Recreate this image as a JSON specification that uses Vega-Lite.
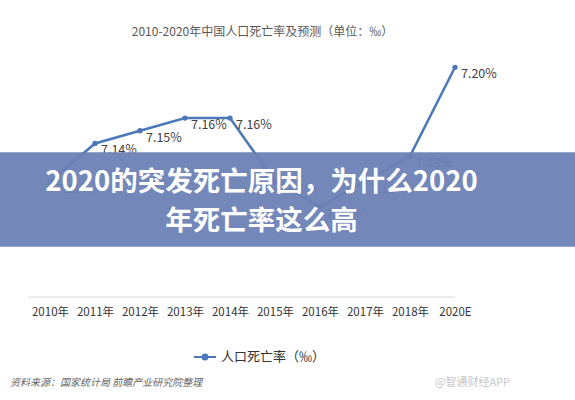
{
  "$schema": "https://vega.github.io/schema/vega-lite/v6.json",
  "width": 575,
  "height": 250,
  "autosize": "none",
  "padding": {"top": 47, "left": 0, "right": 0, "bottom": 103},
  "background": "white",
  "title": {
    "text": "2010-2020年中国人口死亡率及预测（单位：‰）",
    "fontSize": 12,
    "fontWeight": "normal",
    "color": "#595959",
    "offset": 8,
    "dx": -25
  },
  "datasets": {
    "rates": [
      {"year": "2010年", "rate": 7.11, "label": "7.11%"},
      {"year": "2011年", "rate": 7.14, "label": "7.14%"},
      {"year": "2012年", "rate": 7.15, "label": "7.15%"},
      {"year": "2013年", "rate": 7.16, "label": "7.16%"},
      {"year": "2014年", "rate": 7.16, "label": "7.16%"},
      {"year": "2015年", "rate": 7.11, "label": "7.11%"},
      {"year": "2016年", "rate": 7.09, "label": "7.09%"},
      {"year": "2017年", "rate": 7.11, "label": "7.11%"},
      {"year": "2018年", "rate": 7.13, "label": "7.13%"},
      {"year": "2020E", "rate": 7.20, "label": "7.20%"}
    ]
  },
  "data": {"values": [{}]},
  "layer": [
    {
      "mark": {"type": "rule", "color": "#d9d9d9", "strokeWidth": 1},
      "encoding": {
        "x": {
          "datum": "2010年",
          "type": "ordinal",
          "scale": {
            "type": "point",
            "domain": ["2010年", "2011年", "2012年", "2013年", "2014年", "2015年", "2016年", "2017年", "2018年", "2020E"],
            "range": [50, 455],
            "padding": 0
          },
          "axis": {
            "title": null,
            "domain": false,
            "ticks": false,
            "grid": false,
            "labelAngle": 0,
            "labelFontSize": 11.5,
            "labelColor": "#333333",
            "labelPadding": 9
          }
        },
        "x2": {"datum": "2020E"},
        "xOffset": {"value": -22},
        "x2Offset": {"value": 23},
        "y": {
          "datum": 7.019,
          "type": "quantitative",
          "scale": {"domain": [7.019, 7.216], "zero": false, "nice": false},
          "axis": null
        }
      }
    },
    {
      "data": {"name": "rates"},
      "encoding": {
        "x": {"field": "year", "type": "ordinal", "sort": null},
        "y": {"field": "rate", "type": "quantitative"}
      },
      "layer": [
        {
          "mark": {"type": "line", "strokeWidth": 2.5},
          "encoding": {
            "color": {
              "datum": "人口死亡率（‰）",
              "scale": {"range": ["#4a78b8"]},
              "legend": {
                "title": null,
                "orient": "none",
                "legendX": 193,
                "legendY": 298,
                "symbolType": "M-1,0L1,0M-0.23,0A0.23,0.23,0,1,0,0.23,0A0.23,0.23,0,1,0,-0.23,0Z",
                "symbolSize": 484,
                "symbolStrokeWidth": 2,
                "symbolFillColor": "#4a78b8",
                "symbolStrokeColor": "#4a78b8",
                "labelFontSize": 13,
                "labelColor": "#333333",
                "labelOffset": 4
              }
            }
          }
        },
        {
          "mark": {"type": "point", "filled": true, "size": 28, "color": "#4a78b8", "opacity": 1}
        },
        {
          "mark": {"type": "text", "align": "left", "baseline": "middle", "dx": 6, "dy": 7, "fontSize": 12.5, "color": "#404040"},
          "encoding": {"text": {"field": "label"}}
        }
      ]
    },
    {
      "mark": {"type": "rect", "color": "#6b80b5", "opacity": 0.94},
      "encoding": {
        "y": {"datum": 7.133},
        "y2": {"datum": 7.0585}
      }
    },
    {
      "mark": {
        "type": "text",
        "text": ["2020的突发死亡原因，为什么2020", "年死亡率这么高"],
        "fontSize": 27.5,
        "fontWeight": "bold",
        "color": "white",
        "lineHeight": 39,
        "align": "center",
        "baseline": "middle",
        "dx": -26
      },
      "encoding": {
        "y": {"datum": 7.109}
      }
    },
    {
      "mark": {
        "type": "text",
        "text": "资料来源：国家统计局 前瞻产业研究院整理",
        "fontSize": 10,
        "fontStyle": "italic",
        "color": "#666666",
        "align": "left",
        "baseline": "middle",
        "dx": -40
      },
      "encoding": {
        "x": {"datum": "2010年"},
        "y": {"datum": 6.9514}
      }
    },
    {
      "mark": {
        "type": "text",
        "text": "@智通财经APP",
        "fontSize": 11,
        "color": "#c8c8c8",
        "align": "left",
        "baseline": "middle",
        "dx": -20
      },
      "encoding": {
        "x": {"datum": "2020E"},
        "y": {"datum": 6.9514}
      }
    }
  ],
  "config": {
    "font": "Noto Sans CJK SC",
    "view": {"stroke": null}
  }
}
